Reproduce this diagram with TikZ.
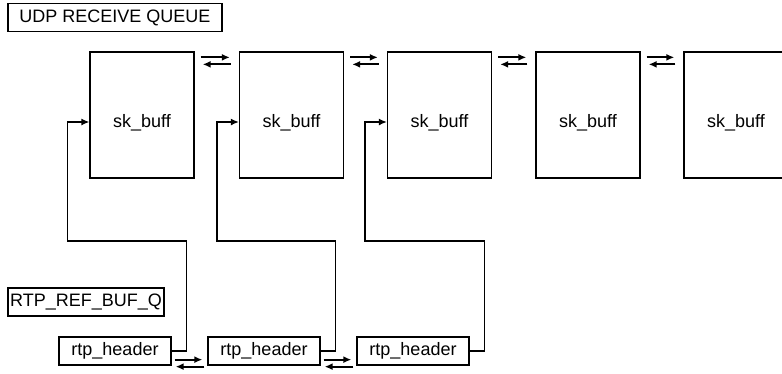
\documentclass[tikz,border=0pt]{standalone}
\usepackage{fontspec}
\setmainfont{Liberation Sans}
\usetikzlibrary{arrows.meta}
\begin{document}
\begin{tikzpicture}[x=1pt,y=-1pt,
  font=\fontsize{18}{21}\selectfont,
  every node/.style={draw,line width=1.3pt,inner sep=0pt,anchor=center},
  buffbox/.style={minimum width=104pt,minimum height=126pt,text height=24pt,text depth=0pt},
  hdrbox/.style={minimum width=112pt,minimum height=28pt},
  tagbox/.style={minimum height=28pt},
  ptr/.style={line width=1.3pt,-{Latex[length=8pt,width=7pt]}},
  dptr/.style={line width=1.8pt,-{Latex[length=8pt,width=7pt]}}]
\useasboundingbox (0,0) rectangle (782,373);

% queue labels
\node[tagbox,minimum width=214pt] (udpq) at (115,17.5) {UDP RECEIVE QUEUE};
\node[tagbox,minimum width=156pt] (rtpq) at (86,302) {RTP\_REF\_BUF\_Q};

% socket buffers on the UDP receive queue
\node[buffbox] (s1) at (142,115) {sk\_buff};
\node[buffbox] (s2) at (291.5,115) {sk\_buff};
\node[buffbox] (s3) at (439.5,115) {sk\_buff};
\node[buffbox] (s4) at (588,115) {sk\_buff};
\node[buffbox] (s5) at (736,115) {sk\_buff};

% rtp headers on the reference queue
\node[hdrbox] (h1) at (115,351) {rtp\_header};
\node[hdrbox] (h2) at (264,351) {rtp\_header};
\node[hdrbox] (h3) at (413,351) {rtp\_header};

% doubly linked sk_buff list
\foreach \a/\b in {s1/s2,s2/s3,s3/s4,s4/s5}{
  \draw[dptr] ([xshift=6pt,yshift=-6pt]\a.north east) -- ([xshift=-9pt,yshift=-6pt]\b.north west);
  \draw[dptr] ([xshift=-8pt,yshift=-13pt]\b.north west) -- ([xshift=8pt,yshift=-13pt]\a.north east);
}

% doubly linked rtp_header list
\foreach \a/\b in {h1/h2,h2/h3}{
  \draw[dptr] ([xshift=3pt,yshift=6pt]\a.south east) -- ([xshift=-5pt,yshift=6pt]\b.south west);
  \draw[dptr] ([xshift=-3pt,yshift=-1pt]\b.south west) -- ([xshift=4pt,yshift=-1pt]\a.south east);
}

% each header points at its sk_buff
\foreach \h/\s in {h1/s1,h2/s2,h3/s3}{
  \draw[ptr] (\h.east) -- ++(15pt,0) |- ([xshift=-22pt]\s.south west |- 0,241)
    |- ([yshift=-7pt]\s.west);
}
\end{tikzpicture}
\end{document}
